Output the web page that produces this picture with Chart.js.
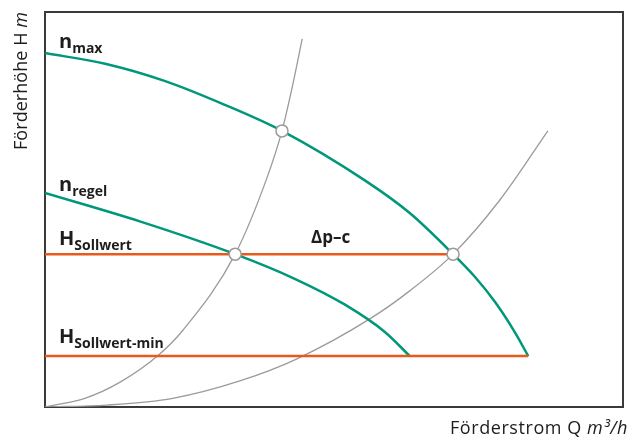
<!DOCTYPE html>
<html lang="de">
<head>
<meta charset="UTF-8">
<title>Kennlinie Δp-c</title>
<style>
    body { margin: 0; background: #ffffff; }
    #wrap { width: 631px; height: 439px; }
</style>
</head>
<body>
<div id="wrap"><canvas id="chart" width="631" height="439"></canvas></div>
<script src="https://cdn.jsdelivr.net/npm/chart.js"></script>
<script>
    // Förderstrom Q (0..100) and Förderhöhe H (0..100)
    const qMax = [0, 10.4, 20.8, 31.1, 41.0, 55.4, 63.1, 70.6, 74.4, 77.9, 81.3, 83.6];
    const hMax = [89.6, 86.9, 82.5, 76.5, 69.9, 57.3, 49.1, 38.7, 32.9, 26.5, 18.9, 12.9];

    const qRegel = [0, 16.4, 32.9, 43.3, 51.9, 58.8, 63.1];
    const hRegel = [54.2, 47.0, 38.7, 32.4, 25.9, 19.0, 12.9];

    const qAnlage1 = [0, 6.9, 13.0, 19.6, 23.9, 32.9, 38.4, 41.0, 42.7, 44.5];
    const hAnlage1 = [0, 2.2, 6.3, 13.1, 19.5, 38.7, 58.0, 69.9, 80.5, 93.2];

    const qAnlage2 = [0, 10.7, 22.1, 33.7, 43.6, 56.2, 63.1, 70.6, 78.7, 87.0];
    const hAnlage2 = [0, 0.5, 2.2, 6.6, 12.2, 22.3, 29.4, 38.7, 52.4, 69.9];

    const hSoll = 38.7, qSollEnd = 70.6;
    const hSollMin = 12.9, qSollMinEnd = 83.6;

    const qPunkte = [41.0, 32.9, 70.6];
    const hPunkte = [69.9, 38.7, 38.7];

    const green = '#00977a';
    const orange = '#e85a1c';
    const grey = '#9b9b9b';
    const ink = '#1d1d1b';

    function pts(qs, hs) {
        return qs.map((q, i) => ({ x: q, y: hs[i] }));
    }

    function subLabel(ctx, x, y, main, sub, size, subSize) {
        ctx.font = 'bold ' + size + 'px "Open Sans", sans-serif';
        ctx.fillText(main, x, y);
        const w = ctx.measureText(main).width;
        ctx.font = 'bold ' + subSize + 'px "Open Sans", sans-serif';
        ctx.fillText(sub, x + w, y + 5);
    }

    // axis title: regular part + italic unit, spaced to the given width
    function axisTitle(ctx, x, y, plain, unit, width) {
        const f1 = '18px "Open Sans", sans-serif';
        const f2 = 'italic 18px "Open Sans", sans-serif';
        ctx.letterSpacing = '0px';
        ctx.font = f1;
        let w = ctx.measureText(plain).width;
        ctx.font = f2;
        w += ctx.measureText(unit).width;
        const n = plain.length + unit.length;
        const sp = Math.max(0, (width - w) / n);
        ctx.letterSpacing = sp + 'px';
        ctx.font = f1;
        ctx.fillText(plain, x, y);
        const w1 = ctx.measureText(plain).width;
        ctx.font = f2;
        ctx.fillText(unit, x + w1, y);
        ctx.letterSpacing = '0px';
    }

    const decor = {
        id: 'decor',
        beforeDatasetsDraw(chart) {
            const ctx = chart.ctx;
            const a = chart.chartArea;
            ctx.save();
            ctx.strokeStyle = '#3a3a3a';
            ctx.lineWidth = 2;
            ctx.strokeRect(a.left, a.top, a.right - a.left, a.bottom - a.top);
            ctx.restore();
        },
        afterDraw(chart) {
            const ctx = chart.ctx;
            ctx.save();
            ctx.fillStyle = ink;
            ctx.textBaseline = 'alphabetic';
            ctx.textAlign = 'left';

            subLabel(ctx, 59, 48, 'n', 'max', 20, 14);
            subLabel(ctx, 59, 191, 'n', 'regel', 20, 14);
            subLabel(ctx, 59, 245, 'H', 'Sollwert', 20, 14);
            subLabel(ctx, 59, 343, 'H', 'Sollwert-min', 20, 14);

            ctx.font = 'bold 17px "Open Sans", sans-serif';
            ctx.fillText('Δp–c', 311, 243);

            axisTitle(ctx, 450, 434, 'Förderstrom Q ', 'm³/h', 178);

            ctx.translate(27, 150);
            ctx.rotate(-Math.PI / 2);
            axisTitle(ctx, 0, 0, 'Förderhöhe H ', 'm', 138);
            ctx.restore();
        }
    };

    const line = (data, color, width, order) => ({
        data: data,
        showLine: true,
        borderColor: color,
        borderWidth: width,
        pointRadius: 0,
        cubicInterpolationMode: 'monotone',
        order: order
    });

    new Chart(document.getElementById('chart'), {
        type: 'scatter',
        data: {
            datasets: [
                {
                    data: pts(qPunkte, hPunkte),
                    pointRadius: 6,
                    pointBackgroundColor: '#ffffff',
                    pointBorderColor: grey,
                    pointBorderWidth: 1.5,
                    order: 0
                },
                line([{ x: 0, y: hSoll }, { x: qSollEnd, y: hSoll }], orange, 2.5, 1),
                line([{ x: 0, y: hSollMin }, { x: qSollMinEnd, y: hSollMin }], orange, 2.5, 1),
                line(pts(qMax, hMax), green, 2.5, 2),
                line(pts(qRegel, hRegel), green, 2.5, 2),
                line(pts(qAnlage1, hAnlage1), grey, 1.3, 3),
                line(pts(qAnlage2, hAnlage2), grey, 1.3, 3)
            ]
        },
        options: {
            responsive: false,
            animation: false,
            layout: { padding: { left: 45, right: 8, top: 12, bottom: 32 } },
            plugins: {
                legend: { display: false },
                tooltip: { enabled: false }
            },
            scales: {
                x: { type: 'linear', min: 0, max: 100, display: false },
                y: { type: 'linear', min: 0, max: 100, display: false }
            }
        },
        plugins: [decor]
    });
</script>
</body>
</html>
